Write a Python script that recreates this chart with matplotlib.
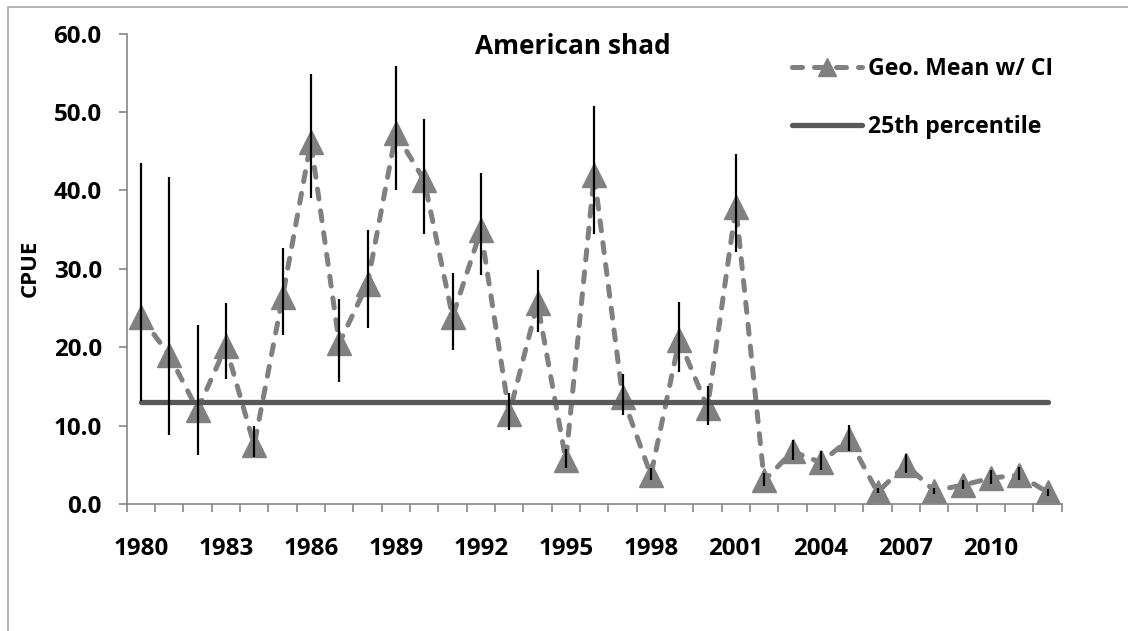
import matplotlib
matplotlib.use("Agg")
import matplotlib.pyplot as plt
from matplotlib.lines import Line2D
from matplotlib.patches import Rectangle
from matplotlib.ticker import FixedLocator, FuncFormatter
from matplotlib.textpath import TextPath
from matplotlib.font_manager import FontProperties

# Annual American shad CPUE (geometric mean) with confidence limits
years = list(range(1980, 2013))
geo_mean = [23.9, 19.0, 12.0, 20.1, 7.5, 26.4, 46.2, 20.5, 28.1, 47.3,
            41.3, 23.9, 34.9, 11.5, 25.6, 5.6, 42.0, 13.7, 3.7, 20.9,
            12.3, 37.9, 3.0, 6.7, 5.3, 8.25, 1.5, 5.0, 1.7, 2.4,
            3.3, 3.7, 1.5]
ci_low = [13.2, 8.8, 6.25, 16.0, 6.0, 21.6, 39.0, 15.6, 22.5, 40.0,
          34.5, 19.6, 29.2, 9.4, 22.0, 4.55, 34.5, 11.4, 3.1, 16.9,
          10.1, 32.2, 2.3, 5.6, 4.3, 6.7, 1.35, 4.0, 1.3, 1.9,
          2.6, 3.0, 1.0]
ci_high = [43.45, 41.7, 22.8, 25.6, 9.9, 32.6, 54.9, 26.2, 35.0, 55.9,
           49.1, 29.5, 42.2, 14.1, 29.8, 7.0, 50.8, 16.6, 4.55, 25.8,
           15.1, 44.6, 3.9, 8.2, 6.7, 10.1, 2.1, 6.4, 2.1, 3.1,
           4.3, 4.7, 1.9]
pct25 = 13.0
label_years = list(range(1980, 2011, 3))
y_ticks = [0, 10, 20, 30, 40, 50, 60]
title = "American shad"
legend_labels = ["Geo. Mean w/ CI", "25th percentile"]

FONT = "Open Sans"
plt.rcParams["font.family"] = [FONT, "DejaVu Sans"]
plt.rcParams["font.weight"] = "bold"

W, H = 1128, 631
DPI = 100


def fit_size(text, width_px):
    """Font size (pt) giving the requested ink width in pixels."""
    fp = FontProperties(family=FONT, weight="bold", size=10)
    ext = TextPath((0, 0), text, prop=fp).get_extents()
    width_pt = ext.width  # at 10 pt
    return 10 * (width_px * 72 / DPI) / width_pt


tick_fs = (fit_size("60.0", 47) + fit_size("1980", 52)) / 2
title_fs = fit_size(title, 194)
legend_fs = (fit_size(legend_labels[0], 185) + fit_size(legend_labels[1], 168)) / 2
ylabel_fs = fit_size("CPUE", 55)

fig = plt.figure(figsize=(W / DPI, H / DPI), dpi=DPI)
fig.patch.set_facecolor("white")

# chart-area frame
fig.patches.append(Rectangle((7.5 / W, -0.1), 1.2, 1 - 7 / H + 0.1,
                             transform=fig.transFigure, fill=False,
                             edgecolor="#a6a6a6", linewidth=1.2))

ax = fig.add_axes([126.7 / W, 1 - 504 / H, (1061.7 - 126.7) / W, (504 - 33.7) / H])

mean_color = "#808080"
dash = (0, (2.0, 2.4))
ax.plot(years, geo_mean, color=mean_color, linewidth=3.6,
        linestyle=dash, dash_capstyle="round",
        marker="^", markersize=17, markerfacecolor=mean_color,
        markeredgecolor=mean_color, zorder=2)

ax.plot([years[0], years[-1]], [pct25, pct25], color="#595959",
        linewidth=3.8, solid_capstyle="round", zorder=3)

ax.vlines(years, ci_low, ci_high, color="black", linewidth=1.6, zorder=4)

ax.set_xlim(1979.5, 2012.5)
ax.set_ylim(0, 60)

spine_color = "#868686"
for side in ("top", "right"):
    ax.spines[side].set_visible(False)
for side in ("left", "bottom"):
    ax.spines[side].set_color(spine_color)
    ax.spines[side].set_linewidth(1.2)

ax.yaxis.set_major_locator(FixedLocator(y_ticks))
ax.yaxis.set_major_formatter(FuncFormatter(lambda v, p: f"{v:.1f}"))
ax.tick_params(axis="y", direction="out", length=6, width=1.2,
               color=spine_color, pad=12, labelsize=tick_fs)

boundaries = [y - 0.5 for y in years] + [years[-1] + 0.5]
ax.xaxis.set_major_locator(FixedLocator(boundaries))
ax.xaxis.set_major_formatter(FuncFormatter(lambda v, p: ""))
ax.xaxis.set_minor_locator(FixedLocator(label_years))
ax.xaxis.set_minor_formatter(FuncFormatter(lambda v, p: f"{int(round(v))}"))
ax.tick_params(axis="x", which="major", direction="out", length=6,
               width=1.2, color=spine_color)
ax.tick_params(axis="x", which="minor", length=0, pad=24, labelsize=tick_fs)

for lbl in ax.get_yticklabels() + ax.get_xticklabels(minor=True):
    lbl.set_fontweight("bold")

ax.set_ylabel("CPUE", fontsize=ylabel_fs, fontweight="bold", va="center")
ax.yaxis.set_label_coords(-(126.7 - 30) / (1061.7 - 126.7), (504 - 268) / (504 - 33.7))

fig.text(573 / W, 1 - 47 / H, title, ha="center", va="center",
         fontsize=title_fs, fontweight="bold")

font_px = legend_fs * DPI / 72
handles = [
    Line2D([], [], color=mean_color, linewidth=3.6, linestyle=dash,
           dash_capstyle="round", marker="^", markersize=13,
           markerfacecolor=mean_color, markeredgecolor=mean_color),
    Line2D([], [], color="#595959", linewidth=3.8, solid_capstyle="round"),
]
ax.legend(handles, legend_labels,
          loc="upper left", bbox_to_anchor=(792 / W, 1 - 57 / H),
          bbox_transform=fig.transFigure, frameon=False,
          prop={"family": FONT, "weight": "bold", "size": legend_fs},
          handlelength=70 / font_px, handletextpad=6 / font_px,
          labelspacing=(65 - 1.36 * font_px) / font_px,
          borderaxespad=0, borderpad=0)

fig.savefig("out.png", dpi=DPI, facecolor="white")
